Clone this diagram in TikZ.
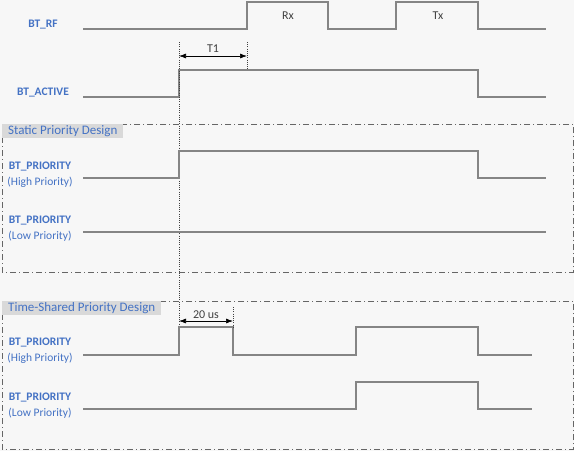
\documentclass[tikz,border=0pt]{standalone}
\usepackage{fontspec}
\setmainfont{Carlito}
\usetikzlibrary{positioning,arrows,arrows.meta}

\definecolor{bg}{HTML}{F7F7F7}
\definecolor{lblue}{HTML}{4472C4}
\definecolor{tagbg}{HTML}{D9D9D9}
\definecolor{wave}{HTML}{858585}

\tikzset{
  sig/.style={draw=wave, line width=1.1pt},
  guide/.style={draw=black!75, line width=0.5pt, dash pattern=on 1pt off 1.2pt},
  signame/.style={text=lblue, font=\bfseries\fontsize{11.5}{13}\selectfont},
  signote/.style={text=lblue, font=\fontsize{11.5}{13}\selectfont},
  frame/.style={draw=black!60, line width=0.7pt, dash pattern=on 6pt off 3pt on 1pt off 3pt},
  tag/.style={fill=tagbg, text=lblue, anchor=north west, inner xsep=6pt, inner ysep=0pt,
    minimum height=14pt, font=\fontsize{13}{14}\selectfont},
  marker/.style={text=black!75, font=\fontsize{12}{13}\selectfont},
  span/.style={{Latex[length=7pt,width=5pt]}-{Latex[length=7pt,width=5pt]}, line width=0.7pt}
}

\begin{document}
\begin{tikzpicture}[x=1pt, y=-1pt]
  \useasboundingbox[fill=bg] (0,0) rectangle (574,451);

  % signal names
  \node[signame] (rf) at (43,25) {BT\_RF};
  \node[signame] (active) at (43,93) {BT\_ACTIVE};

  % BT_RF and BT_ACTIVE
  \draw[sig] (83,29) -- (247,29) |- (328,2) |- (396,29) |- (478,2) |- (546,29);
  \node[marker] (rx) at (288,16) {Rx};
  \node[marker] (tx) at (438,16) {Tx};
  \draw[sig] (83,97) -- (179,97) |- (478,70) |- (546,97);

  % T1
  \coordinate (t0) at (179,42);
  \coordinate (t1) at (247,42);
  \draw[guide] (t0) -- (179,327);
  \draw[guide] (t1) -- (247,70);
  \draw[span] (179,56) -- node[marker, above=0pt] (tone) {T1} (247,56);

  % static priority design
  \draw[frame] (2,124) rectangle (573,272);
  \node[tag] (static) at (2,124) {Static Priority Design};
  \node[signame] (shigh) at (40,167) {BT\_PRIORITY};
  \node[signote, below=-2pt of shigh] (shighnote) {(High Priority)};
  \node[signame] (slow) at (40,221) {BT\_PRIORITY};
  \node[signote, below=-2pt of slow] (slownote) {(Low Priority)};
  \draw[sig] (83,178) -- (179,178) |- (478,151) |- (546,178);
  \draw[sig] (83,232) -- (546,232);

  % time-shared priority design
  \draw[frame] (2,301) rectangle (573,449);
  \node[tag] (shared) at (2,301) {Time-Shared Priority Design};
  \node[signame] (thigh) at (40,343) {BT\_PRIORITY};
  \node[signote, below=-2pt of thigh] (thighnote) {(High Priority)};
  \node[signame] (tlow) at (40,398) {BT\_PRIORITY};
  \node[signote, below=-2pt of tlow] (tlownote) {(Low Priority)};
  \draw[sig] (83,355) -- (179,355) |- (233,327) |- (356,355) |- (478,327) |- (532,355);
  \draw[sig] (83,409) -- (356,409) |- (478,382) |- (532,409);

  % 20 us
  \coordinate (t2) at (233,307);
  \draw[guide] (t2) -- (233,327);
  \draw[span] (179,321) -- node[marker, above=-1pt] (twenty) {20 us} (233,321);
\end{tikzpicture}
\end{document}
